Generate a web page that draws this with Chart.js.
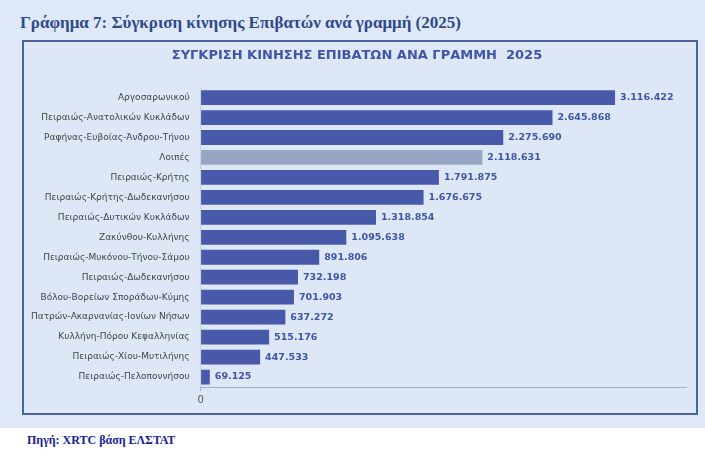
<!DOCTYPE html>
<html>
<head>
<meta charset="utf-8">
<script src="https://cdn.jsdelivr.net/npm/chart.js@4"></script>
<style>
  body { margin: 0; width: 705px; height: 457px; background: #fff; font-family: "DejaVu Sans", sans-serif; }
  #top { position: absolute; left: 0; top: 0; width: 705px; height: 428px; background: #dfe8f6; }
  #heading { position: absolute; left: 20px; top: 13px; font: bold 17px "Liberation Serif", serif; color: #2e4a8a; }
  #box { position: absolute; left: 22px; top: 40px; width: 672px; height: 371px; border: 2px solid #4a64a0; background: #dde7f6; }
  #source { position: absolute; left: 27px; top: 433px; font: bold 12px "Liberation Serif", serif; color: #1a1a9a; }
</style>
</head>
<body>
<div id="top"></div>
<div id="heading">Γράφημα 7: Σύγκριση κίνησης Επιβατών ανά γραμμή (2025)</div>
<div id="box"><canvas id="chart" width="672" height="371"></canvas></div>
<div id="source">Πηγή: XRTC βάση ΕΛΣΤΑΤ</div>
<script>
const routes = ['Αργοσαρωνικού', 'Πειραιώς-Ανατολικών Κυκλάδων', 'Ραφήνας-Ευβοίας-Άνδρου-Τήνου', 'Λοιπές',
  'Πειραιώς-Κρήτης', 'Πειραιώς-Κρήτης-Δωδεκανήσου', 'Πειραιώς-Δυτικών Κυκλάδων', 'Ζακύνθου-Κυλλήνης',
  'Πειραιώς-Μυκόνου-Τήνου-Σάμου', 'Πειραιώς-Δωδεκανήσου', 'Βόλου-Βορείων Σποράδων-Κύμης',
  'Πατρών-Ακαρνανίας-Ιονίων Νήσων', 'Κυλλήνη-Πόρου Κεφαλληνίας', 'Πειραιώς-Χίου-Μυτιλήνης', 'Πειραιώς-Πελοποννήσου'];
const passengers = [3116422, 2645868, 2275690, 2118631, 1791875, 1676675, 1318854, 1095638,
  891806, 732198, 701903, 637272, 515176, 447533, 69125];

const fmt = v => v.toLocaleString('de-DE');
const onStep = v => Math.abs(v % 500000) < 1;

const labelPlugin = {
  id: 'valueLabels',
  afterDatasetsDraw(chart) {
    const ctx = chart.ctx;
    ctx.save();
    ctx.font = 'bold 9.5px "DejaVu Sans"';
    ctx.fillStyle = '#3f55a8';
    ctx.textBaseline = 'middle';
    chart.getDatasetMeta(0).data.forEach((bar, i) => {
      ctx.fillText(fmt(passengers[i]), bar.x + 5, bar.y);
    });
    ctx.restore();
  }
};

new Chart(document.getElementById('chart'), {
  type: 'bar',
  data: {
    labels: routes,
    datasets: [{
      data: passengers,
      backgroundColor: routes.map(r => r === 'Λοιπές' ? '#97a6c4' : '#4759a8'),
      categoryPercentage: 0.74,
      barPercentage: 1
    }]
  },
  options: {
    indexAxis: 'y',
    responsive: false,
    animation: false,
    layout: { padding: { left: 4, right: 10, bottom: 4 } },
    plugins: {
      legend: { display: false },
      tooltip: { enabled: false },
      title: {
        display: true,
        text: 'ΣΥΓΚΡΙΣΗ ΚΙΝΗΣΗΣ ΕΠΙΒΑΤΩΝ ΑΝΑ ΓΡΑΜΜΗ  2025',
        color: '#3f55a8',
        font: { family: 'DejaVu Sans', size: 13, weight: 'bold' },
        padding: { top: 6, bottom: 24 }
      }
    },
    scales: {
      x: {
        min: 0, max: 3650000,
        ticks: {
          stepSize: 250000, autoSkip: false, maxRotation: 0,
          callback: v => onStep(v) ? fmt(v) : '',
          color: '#555', font: { family: 'DejaVu Sans', size: 10 }
        },
        grid: {
          color: c => (c.tick && onStep(c.tick.value)) ? '#c4d2ea' : 'rgba(0,0,0,0)',
          tickColor: c => (c.tick && onStep(c.tick.value)) ? '#9fb0cf' : 'rgba(0,0,0,0)',
          tickLength: 4
        },
        border: { color: '#9fb0cf' }
      },
      y: {
        ticks: { color: '#444', font: { family: 'DejaVu Sans', size: 9 }, autoSkip: false },
        grid: { display: false },
        border: { display: false }
      }
    }
  },
  plugins: [labelPlugin]
});
</script>
</body>
</html>
